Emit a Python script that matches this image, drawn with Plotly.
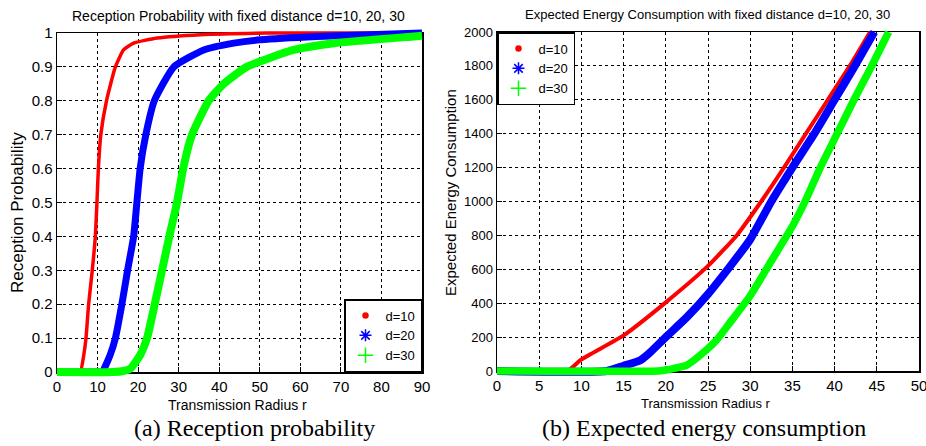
import plotly.graph_objects as go

# ---------------- data ----------------
# (a) Reception probability vs transmission radius
r_p10 = [0, 5.0, 5.75, 6.6, 7.15, 7.8, 8.7, 9.45, 9.85, 10.2, 10.8, 12.2, 14.4, 16.4, 18.9, 24.7, 35.3, 52, 70, 90]
p_p10 = [0, 0, 0.0, 0.05, 0.1, 0.2, 0.3, 0.4, 0.5, 0.6, 0.7, 0.8, 0.9, 0.95, 0.97, 0.985, 0.995, 1.0, 1.0, 1.0]

r_p20 = [0, 10.0, 11.1, 13.1, 14.4, 16.0, 17.4, 18.9, 19.7, 20.5, 21.9, 24.0, 28.8, 36.2, 43.6, 50.1, 64.1, 90]
p_p20 = [0, 0, 0.0, 0.05, 0.1, 0.2, 0.3, 0.4, 0.5, 0.6, 0.7, 0.8, 0.9, 0.95, 0.97, 0.98, 0.99, 1.0]

r_p30 = [0, 14.0, 16.4, 18.1, 20.5, 22.2, 24.1, 25.9, 27.7, 29.6, 31.1, 33.3, 37.4, 41.1, 46.8, 58.3, 68.2, 88, 90]
p_p30 = [0, 0, 0.003, 0.01, 0.05, 0.1, 0.2, 0.3, 0.4, 0.5, 0.6, 0.7, 0.8, 0.85, 0.9, 0.95, 0.97, 0.99, 0.992]

# (b) Expected energy consumption vs transmission radius
r_e10 = [0, 8.3, 10, 15, 20, 25, 28.4, 31.3, 34.0, 36.6, 39.2, 41.8, 44.2]
e_e10 = [0, 0, 68, 210, 405, 620, 800, 1000, 1200, 1400, 1600, 1800, 2000]

r_e20 = [0, 13, 15, 17, 18, 20, 22.5, 25, 27.5, 30, 32.5, 35.0, 37.6, 40.0, 42.4, 44.7]
e_e20 = [0, 0, 31, 64, 103, 200, 318, 454, 610, 776, 1000, 1200, 1400, 1600, 1800, 2000]

r_e30 = [0, 19, 20, 21, 22.5, 25, 26, 27.5, 30, 32.5, 35, 36.5, 38.3, 40.3, 42.3, 44.4, 46.4]
e_e30 = [0, 0, 6, 16, 35, 133, 181, 279, 444, 649, 854, 1000, 1200, 1400, 1600, 1800, 2000]

legend_names = ["d=10", "d=20", "d=30"]
colors = ["#ff0000", "#0000ff", "#00ff00"]
symbols = ["circle", "asterisk-open", "cross-thin-open"]
msizes = [5, 10, 11]

x1_ticks = list(range(0, 91, 10))
y1_ticks = [i / 10 for i in range(11)]
x2_ticks = list(range(0, 51, 5))
y2_ticks = list(range(0, 2001, 200))

title_a = "Reception Probability with fixed distance d=10, 20, 30"
title_b = "Expected Energy Consumption with fixed distance d=10, 20, 30"
xlab = "Transmission Radius r"
ylab_a = "Reception Probability"
ylab_b = "Expected Energy Consumption"
cap_a = "(a) Reception probability"
cap_b = "(b) Expected energy consumption"

# ---------------- figure ----------------
W, H = 926, 446
SANS = "Liberation Sans, Arial, Helvetica, sans-serif"
SERIF = "Liberation Serif, Times New Roman, serif"
PAD = 7  # px the marker bands may spill past the frame (as in the reference)

# pixel boxes of the two plot frames: (left, right, top, bottom)
box_a = (57, 422, 33, 372)
box_b = (497, 919, 32, 371)
xr_a, yr_a = (0, 90), (0, 1)
xr_b, yr_b = (0, 50), (0, 2000)


def dom_x(a, b):
    return [a / W, b / W]


def dom_y(top, bottom):
    return [1 - bottom / H, 1 - top / H]


def padded(box, xr, yr):
    l, r, t, b = box
    ux = (xr[1] - xr[0]) / (r - l)
    uy = (yr[1] - yr[0]) / (b - t)
    return (dom_x(l - PAD, r + PAD), [xr[0] - PAD * ux, xr[1] + PAD * ux],
            dom_y(t - PAD, b + PAD), [yr[0] - PAD * uy, yr[1] + PAD * uy])


fig = go.Figure()

widths_a = [3.5, 7, 8]
widths_b = [4, 8, 7.5]
for (rx, py), c, w in zip([(r_p10, p_p10), (r_p20, p_p20), (r_p30, p_p30)], colors, widths_a):
    fig.add_trace(go.Scatter(x=rx, y=py, mode="lines", line=dict(color=c, width=w, shape="spline", smoothing=0.5),
                             xaxis="x3", yaxis="y3", showlegend=False, hoverinfo="skip"))
for (rx, ey), c, w in zip([(r_e10, e_e10), (r_e20, e_e20), (r_e30, e_e30)], colors, widths_b):
    fig.add_trace(go.Scatter(x=rx, y=ey, mode="lines", line=dict(color=c, width=w, shape="spline", smoothing=0.5),
                             xaxis="x4", yaxis="y4", showlegend=False, hoverinfo="skip"))

# legend-only entries
for lg, xa, ya in [("legend", "x", "y"), ("legend2", "x2", "y2")]:
    for name, c, s, ms in zip(legend_names, colors, symbols, msizes):
        fig.add_trace(go.Scatter(x=[None], y=[None], mode="markers", name=name,
                                 marker=dict(color=c, symbol=s, size=ms, line=dict(color=c, width=1.5)),
                                 xaxis=xa, yaxis=ya, legend=lg, showlegend=True))


def axis_style(size):
    return dict(showline=True, mirror=True, linecolor="black", linewidth=1.5,
                showgrid=True, gridcolor="black", gridwidth=1, griddash="3px,3px",
                zeroline=False, ticks="inside", ticklen=5, tickcolor="black",
                ticklabeloverflow="allow",
                tickfont=dict(family=SANS, size=size, color="black"), fixedrange=True)


hidden = dict(visible=False, showgrid=False, zeroline=False, fixedrange=True)

pxa_d, pxa_r, pya_d, pya_r = padded(box_a, xr_a, yr_a)
pxb_d, pxb_r, pyb_d, pyb_r = padded(box_b, xr_b, yr_b)

legend_common = dict(bgcolor="white", bordercolor="black", borderwidth=1.5,
                     font=dict(family=SANS, size=13, color="black"), itemwidth=30,
                     tracegroupgap=0)

fig.update_layout(
    width=W, height=H,
    margin=dict(l=0, r=0, t=0, b=0, autoexpand=False),
    paper_bgcolor="white", plot_bgcolor="rgba(0,0,0,0)",
    xaxis=dict(domain=dom_x(box_a[0], box_a[1]), range=list(xr_a), tickvals=x1_ticks, anchor="y", **axis_style(15)),
    yaxis=dict(domain=dom_y(box_a[2], box_a[3]), range=list(yr_a), tickvals=y1_ticks, anchor="x", **axis_style(15)),
    xaxis2=dict(domain=dom_x(box_b[0], box_b[1]), range=list(xr_b), tickvals=x2_ticks, anchor="y2", **axis_style(15)),
    yaxis2=dict(domain=dom_y(box_b[2], box_b[3]), range=list(yr_b), tickvals=y2_ticks, anchor="x2", **axis_style(13)),
    xaxis3=dict(domain=pxa_d, range=pxa_r, anchor="y3", **hidden),
    yaxis3=dict(domain=pya_d, range=pya_r, anchor="x3", **hidden),
    xaxis4=dict(domain=pxb_d, range=pxb_r, anchor="y4", **hidden),
    yaxis4=dict(domain=pyb_d, range=pyb_r, anchor="x4", **hidden),
    legend=dict(x=box_a[1] / W, y=1 - box_a[3] / H, xanchor="right", yanchor="bottom", **legend_common),
    legend2=dict(x=box_b[0] / W, y=1 - box_b[2] / H, xanchor="left", yanchor="top", **legend_common),
    showlegend=True,
)


def ann(text, x, y, size, family=SANS, angle=0):
    fig.add_annotation(text=text, x=x / W, y=1 - y / H, xref="paper", yref="paper",
                       xanchor="center", yanchor="middle", showarrow=False, textangle=angle,
                       font=dict(family=family, size=size, color="black"))


ann(title_a, 238, 16, 14)
ann(title_b, 707, 15, 13)
ann(xlab, 237, 405, 14)
ann(xlab, 706, 403, 13)
ann(ylab_a, 18, 213, 17, angle=-90)
ann(ylab_b, 450, 193, 15, angle=-90)
ann(cap_a, 254, 428, 24, family=SERIF)
ann(cap_b, 704, 428, 24, family=SERIF)

fig.write_html("out.html",
               config={"displayModeBar": False, "staticPlot": True},
               post_script="document.body.style.margin='0';document.body.style.padding='0';"
                           "document.body.style.overflow='hidden';")
